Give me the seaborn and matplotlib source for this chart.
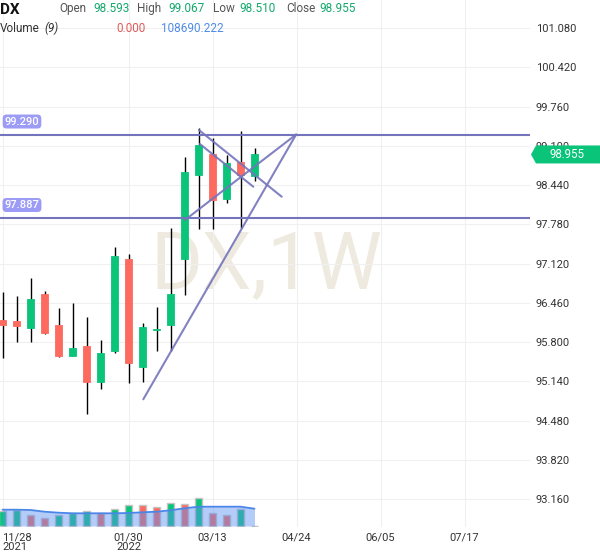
import numpy as np
import pandas as pd
import matplotlib
matplotlib.use("Agg")
import matplotlib.pyplot as plt
import matplotlib.dates as mdates
import matplotlib.patches as mpatches
import matplotlib.transforms as mtransforms
import seaborn as sns

# =========================
# DATA
# =========================
dates = [
    "2021-11-28", "2021-12-05", "2021-12-12", "2021-12-19", "2021-12-26",
    "2022-01-02", "2022-01-09", "2022-01-16", "2022-01-23", "2022-01-30",
    "2022-02-06", "2022-02-13", "2022-02-20", "2022-02-27", "2022-03-06",
    "2022-03-13", "2022-03-20", "2022-03-27", "2022-04-03",
]
opens = [96.172, 96.156, 96.038, 96.609, 96.088, 95.567, 95.736, 95.130, 95.652, 97.198,
         95.383, 96.000, 96.088, 97.198, 98.609, 98.962, 98.206, 98.828, 98.593]
highs = [96.643, 96.576, 96.878, 96.660, 96.374, 96.458, 96.223, 95.836, 97.405, 97.277,
         96.122, 96.391, 97.719, 98.912, 99.399, 99.231, 98.946, 99.349, 99.067]
lows = [95.534, 95.803, 95.803, 95.940, 95.550, 95.560, 94.593, 95.013, 95.618, 95.114,
        95.130, 95.652, 95.652, 96.593, 97.702, 97.702, 98.139, 97.719, 98.510]
closes = [96.088, 96.072, 96.525, 95.960, 95.567, 95.702, 95.130, 95.618, 97.248, 95.450,
          96.055, 96.015, 96.609, 98.660, 99.114, 98.189, 98.811, 98.609, 98.955]

volumes = [96100, 102400, 67200, 52200, 67200, 81700, 96100, 83600, 104900, 130100,
           129500, 121300, 146400, 136300, 177800, 79800, 67200, 108700, 0]
vol_ma9 = [102400, 102400, 100500, 89800, 83600, 79800, 79800, 79800, 79800, 81700,
           86100, 89800, 98600, 111200, 121300, 121300, 121300, 121300, 108690]

level_lines = [99.290, 97.887]

# trend lines: (days after first candle, price) pairs
trend_lines = [
    ((70.4, 94.840), (146.8, 99.290)),
    ((91.2, 97.853), (146.8, 99.290)),
    ((98.2, 99.366), (139.6, 98.245)),
    ((98.7, 99.130), (125.4, 98.413)),
]

x_tick_dates = ["2021-11-28", "2022-01-30", "2022-03-13", "2022-04-24", "2022-06-05", "2022-07-17"]
x_tick_labels = ["11/28\n2021", "01/30\n2022", "03/13", "04/24", "06/05", "07/17"]
y_ticks = [101.080, 100.420, 99.760, 99.100, 98.440, 97.780, 97.120,
           96.460, 95.800, 95.140, 94.480, 93.820, 93.160]

GREEN = "#0ac47a"
RED = "#fd6a5f"
PURPLE = "#7474bd"
LABEL_BG = "#9c9bf6"
TEXT = "#333333"

# =========================
# STYLE
# =========================
sns.set_theme(style="white")
plt.rcParams["font.family"] = ["Roboto", "DejaVu Sans"]

W, H = 600, 558
fig = plt.figure(figsize=(W / 100, H / 100), dpi=100)
ax = fig.add_axes([0, 31 / H, 530 / W, 527 / H])
# volume overlay shares the x axis (twinx resets the main ticks, so do it first)
ax_v = ax.twinx()

x = mdates.date2num(pd.to_datetime(dates))
o = np.array(opens)
c = np.array(closes)
up = c >= o
cols = np.where(up, GREEN, RED)

# =========================
# CANDLES
# =========================
ax.vlines(x, lows, highs, color="black", lw=1.0, zorder=3)
ax.bar(x, np.abs(c - o), bottom=np.minimum(o, c), width=3.65,
       color=cols, edgecolor=cols, lw=0.6, zorder=4)

# level lines with their price boxes
for lv in level_lines:
    ax.axhline(lv, color=PURPLE, lw=1.5, zorder=5)
    ax.annotate(f"{lv:.3f}", xy=(0, lv), xycoords=("axes fraction", "data"),
                xytext=(22, 13), textcoords="offset pixels",
                ha="center", va="center", fontsize=8, color="white",
                fontweight="medium", zorder=7,
                bbox=dict(boxstyle="round,pad=0.18,rounding_size=0.35",
                          fc=LABEL_BG, ec="none"))

# trend lines
x0 = x[0]
for (d1, p1), (d2, p2) in trend_lines:
    ax.plot([x0 + d1, x0 + d2], [p1, p2], color=PURPLE, lw=1.5, alpha=0.9, zorder=6)

# watermark
ax.text(0.503, 0.453, "DX,1W", transform=ax.transAxes, ha="center", va="baseline",
        fontsize=57, color="#eeeadf", zorder=0)

# axes limits and ticks
ax.set_xlim(x0 - 1.25, x0 + 263.75)
ax.set_ylim(92.6935, 101.551)
ax.grid(True, color="#f0f0f0", lw=0.8)
ax.set_axisbelow(True)
for s in ax.spines.values():
    s.set_visible(False)

ax.yaxis.tick_right()
ax.set_yticks(y_ticks, labels=[f"{v:.3f}" for v in y_ticks])
ax.tick_params(axis="y", length=0, pad=4.3, labelsize=8, labelcolor=TEXT,
               left=False, labelleft=False, right=False, labelright=True)

ax.set_xticks(mdates.date2num(pd.to_datetime(x_tick_dates)), labels=x_tick_labels)
ax.tick_params(axis="x", length=0, pad=4.0, labelsize=8, labelcolor=TEXT)
for i, lab in enumerate(ax.get_xticklabels()):
    lab.set_linespacing(0.95)
    if i == 0:
        lab.set_ha("left")
        lab.set_multialignment("left")

# =========================
# VOLUME OVERLAY
# =========================
px_per_vol = 6283
ax_v.set_ylim(-px_per_vol, -px_per_vol + 527 * px_per_vol)
vols = np.array(volumes)
vol_up = np.concatenate([[True], np.diff(vols) > 0])
vcols = np.where(vol_up, GREEN, RED).astype(object)
vcols[vols == 0] = "#c0c0c0"
ax_v.bar(x, vols, width=3.65, color=list(vcols), edgecolor="#c4c4c4", lw=1.0, zorder=2)
ax_v.fill_between(x, 0, vol_ma9, color="#5a8ff0", alpha=0.45, lw=0, zorder=3)
sns.lineplot(x=x, y=vol_ma9, ax=ax_v, color="#4a86e8", lw=1.3, zorder=4)
ax_v.set_yticks([])
ax_v.set_ylabel("")
ax_v.set_xlabel("")
ax_v.tick_params(axis="y", left=False, right=False, labelleft=False, labelright=False)
for s in ax_v.spines.values():
    s.set_visible(False)
ax.set_xlim(x0 - 1.25, x0 + 263.75)

# =========================
# LAST PRICE TAG
# =========================
fig.canvas.draw()
yd = ax.transData.transform((x0, closes[-1]))[1]
tag = mpatches.Polygon([(531, yd), (536, yd - 9), (600, yd - 9), (600, yd + 9), (536, yd + 9)],
                       closed=True, fc=GREEN, ec="none",
                       transform=mtransforms.IdentityTransform(), zorder=10)
fig.add_artist(tag)
fig.text(567 / W, yd / H, f"{closes[-1]:.3f}", ha="center", va="center",
         fontsize=8.3, color="white", zorder=11)

# =========================
# HEADER
# =========================
def head(px, py, s, color=TEXT, **kw):
    fig.text(px / W, 1 - py / H, s, ha="left", va="baseline", color=color, **kw)

head(0, 13.5, "DX", fontsize=11, fontweight="bold", color="#111111")
head(59, 12, "Open", fontsize=8.5, color="#555555")
head(93, 12, "98.593", fontsize=8.5, color="#13a86c")
head(137, 12, "High", fontsize=8.5, color="#555555")
head(168, 12, "99.067", fontsize=8.5, color="#13a86c")
head(213, 12, "Low", fontsize=8.5, color="#555555")
head(239, 12, "98.510", fontsize=8.5, color="#13a86c")
head(286, 12, "Close", fontsize=8.5, color="#555555")
head(319, 12, "98.955", fontsize=8.5, color="#13a86c")
head(0, 32, "Volume", fontsize=8.5, color="#333333")
head(44.5, 32, "(9)", fontsize=8.5, color="#333333", style="italic")
head(116, 32, "0.000", fontsize=8.5, color="#e05a5a")
head(161, 32, "108690.222", fontsize=8.5, color="#4f8be8")

fig.savefig("out.png", dpi=100)
